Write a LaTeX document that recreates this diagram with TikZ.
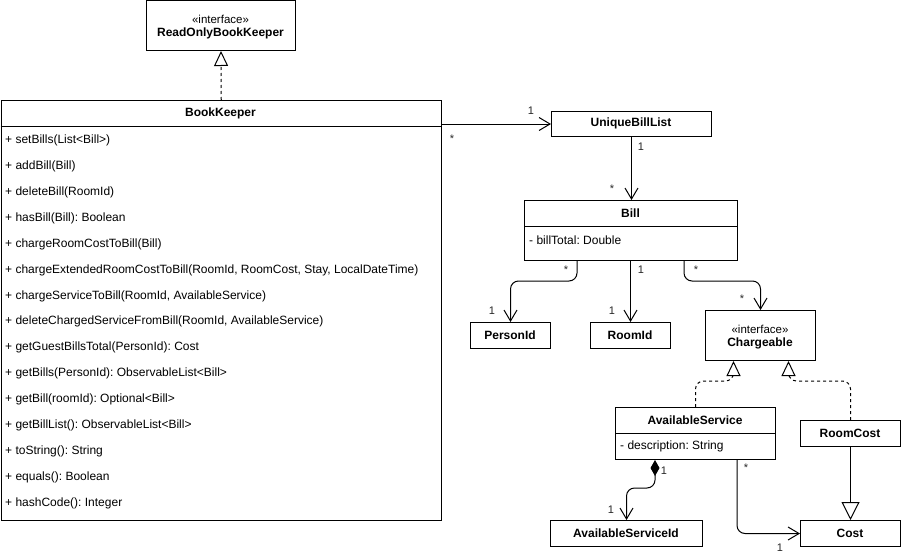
\documentclass[tikz,border=0pt]{standalone}
\usepackage{fontspec}
\setmainfont{Liberation Sans}
\usetikzlibrary{arrows.meta,calc}
\frenchspacing
\begin{document}
\begin{tikzpicture}[x=1pt,y=-1pt,
  font=\fontsize{12}{14}\selectfont,
  box/.style={draw, line width=1pt, inner sep=0pt, anchor=north west, fill=white},
  ttl/.style={font=\fontsize{12}{14}\selectfont\bfseries, inner sep=0pt},
  stereo/.style={font=\fontsize{11.5}{13}\selectfont, inner sep=0pt},
  meth/.style={anchor=west, inner sep=0pt},
  mult/.style={font=\fontsize{11}{13}\selectfont, inner sep=0pt, text=black!85},
  conn/.style={line width=1pt, rounded corners=8pt},
  assoc/.style={conn, -{Straight Barb[length=11pt,width=13pt,line width=1pt]}},
  realize/.style={conn, dash pattern=on 3pt off 3pt, -{Triangle[open,length=15pt,width=14pt,line width=1pt,fill=white]}},
  gen/.style={conn, -{Triangle[open,length=18pt,width=18pt,line width=1pt,fill=white]}},
  compo/.style={conn, {Diamond[length=16pt,width=9pt]}-{Straight Barb[length=11pt,width=13pt,line width=1pt]}}
]
\useasboundingbox (0,0) rectangle (901,559);

% ReadOnlyBookKeeper
\node[box, minimum width=149pt, minimum height=49.5pt] (robk) at (146,0.5) {};
\node[stereo] at (220.5,19) {«interface»};
\node[ttl] at (220.5,33) {ReadOnlyBookKeeper};

% BookKeeper
\node[box, minimum width=440.5pt, minimum height=420pt] (bk) at (0.5,100) {};
\draw[line width=1pt] (bk.west |- 0,126) -- (bk.east |- 0,126);
\node[ttl] at (220.5,113) {BookKeeper};
\foreach \t [count=\i from 0] in {%
  {+ setBills(List<Bill>)},
  {+ addBill(Bill)},
  {+ deleteBill(RoomId)},
  {+ hasBill(Bill): Boolean},
  {+ chargeRoomCostToBill(Bill)},
  {+ chargeExtendedRoomCostToBill(RoomId, RoomCost, Stay, LocalDateTime)},
  {+ chargeServiceToBill(RoomId, AvailableService)},
  {+ deleteChargedServiceFromBill(RoomId, AvailableService)},
  {+ getGuestBillsTotal(PersonId): Cost},
  {+ getBills(PersonId): ObservableList<Bill>},
  {+ getBill(roomId): Optional<Bill>},
  {+ getBillList(): ObservableList<Bill>},
  {+ toString(): String},
  {+ equals(): Boolean},
  {+ hashCode(): Integer}}
  \node[meth] (m\i) at (5,140.5+25.9*\i) {\t};

% UniqueBillList
\node[box, minimum width=160pt, minimum height=25pt] (ubl) at (551,111) {};
\node[ttl] at (631,123.5) {UniqueBillList};

% Bill
\node[box, minimum width=213pt, minimum height=60pt] (bill) at (524,200) {};
\draw[line width=1pt] (bill.west |- 0,226) -- (bill.east |- 0,226);
\node[ttl] at (630.5,213) {Bill};
\node[meth] at (529,240) {- billTotal: Double};

% PersonId, RoomId
\node[box, minimum width=80pt, minimum height=26pt] (pid) at (470,322) {};
\node[ttl] at (510,335) {PersonId};
\node[box, minimum width=80pt, minimum height=26pt] (rid) at (590,322) {};
\node[ttl] at (630,335) {RoomId};

% Chargeable
\node[box, minimum width=110pt, minimum height=50pt] (charg) at (705,310) {};
\node[stereo] at (760,329) {«interface»};
\node[ttl] at (760,343) {Chargeable};

% AvailableService
\node[box, minimum width=160pt, minimum height=52pt] (as) at (615,407) {};
\draw[line width=1pt] (as.west |- 0,433) -- (as.east |- 0,433);
\node[ttl] at (695,420) {AvailableService};
\node[meth] at (620,446) {- description: String};

% RoomCost, Cost, AvailableServiceId
\node[box, minimum width=100pt, minimum height=26pt] (rc) at (800,420) {};
\node[ttl] at (850,433) {RoomCost};
\node[box, minimum width=100pt, minimum height=26pt] (cost) at (800,520) {};
\node[ttl] at (850,533) {Cost};
\node[box, minimum width=152pt, minimum height=26pt] (asid) at (550,520) {};
\node[ttl] at (626,533) {AvailableServiceId};

% connectors
\draw[realize] (bk.north) -- (robk.south);
\draw[assoc] (bk.east |- ubl.west) -- (ubl.west);
\draw[assoc] (ubl.south) -- (ubl.south |- bill.north);
\draw[assoc] ([xshift=53pt]bill.south west) -- ++(0,20) -| (pid.north);
\draw[assoc] (rid.north |- bill.south) -- (rid.north);
\draw[assoc] ([xshift=-54pt]bill.south east) -- ++(0,20) -| (charg.north);
\draw[realize] (as.north) -- ++(0,-26) -| ([xshift=-27pt]charg.south);
\draw[realize] (rc.north) -- ++(0,-39) -| ([xshift=28pt]charg.south);
\draw[gen] (rc.south) -- (cost.north);
\draw[compo] ([xshift=40pt]as.south west) -- ++(0,28) -| (asid.north);
\draw[assoc] ([xshift=-39pt]as.south east) |- (cost.west);

% multiplicities
\node[mult] at (531,111) {1};
\node[mult] at (452,139) {*};
\node[mult] at (641,147) {1};
\node[mult] at (612,189) {*};
\node[mult] at (566,270) {*};
\node[mult] at (492,311) {1};
\node[mult] at (641,270) {1};
\node[mult] at (612,311) {1};
\node[mult] at (696,270) {*};
\node[mult] at (742,299) {*};
\node[mult] at (664,471) {1};
\node[mult] at (611,510) {1};
\node[mult] at (746,468) {*};
\node[mult] at (780,548) {1};
\end{tikzpicture}
\end{document}
